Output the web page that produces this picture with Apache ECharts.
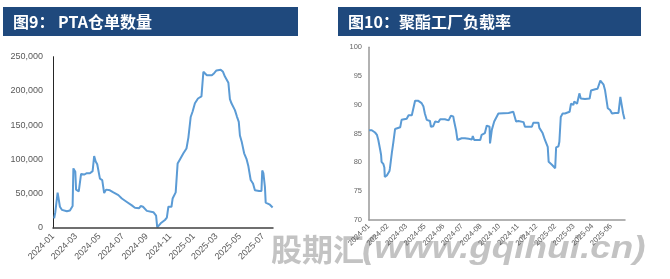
<!DOCTYPE html>
<html>
<head>
<meta charset="utf-8">
<script src="https://cdn.jsdelivr.net/npm/echarts@6/dist/echarts.min.js"></script>
<style>html,body{margin:0;padding:0;background:#fff;}#c{width:670px;height:279px;}</style>
</head>
<body>
<div id="c"></div>
<script>
// ---- Left chart: PTA warehouse receipts ----
const leftTitle = '图9： PTA仓单数量';
const leftAxisStart = '2024-01-01';
const leftAxisEnd = '2025-07-26';
const leftDates = ['2024-01-04','2024-01-07','2024-01-11','2024-01-13','2024-01-15','2024-01-17','2024-01-19','2024-01-24','2024-02-06','2024-02-14','2024-02-19','2024-02-21','2024-02-23','2024-02-28','2024-03-01','2024-03-08','2024-03-14','2024-03-22','2024-03-29','2024-04-06','2024-04-13','2024-04-17','2024-04-21','2024-04-25','2024-05-02','2024-05-08','2024-05-13','2024-05-18','2024-05-28','2024-06-06','2024-06-19','2024-06-28','2024-07-11','2024-07-24','2024-08-01','2024-08-12','2024-08-16','2024-08-22','2024-08-27','2024-09-01','2024-09-18','2024-09-25','2024-09-28','2024-10-07','2024-10-18','2024-10-23','2024-10-27','2024-11-04','2024-11-07','2024-11-15','2024-11-20','2024-11-26','2024-12-05','2024-12-13','2024-12-18','2024-12-24','2024-12-29','2025-01-04','2025-01-12','2025-01-21','2025-01-26','2025-02-04','2025-02-17','2025-02-23','2025-03-01','2025-03-06','2025-03-12','2025-03-18','2025-03-23','2025-04-01','2025-04-05','2025-04-09','2025-04-18','2025-04-23','2025-04-28','2025-05-01','2025-05-06','2025-05-12','2025-05-18','2025-05-23','2025-05-29','2025-06-04','2025-06-09','2025-06-20','2025-06-26','2025-06-28','2025-07-01','2025-07-05','2025-07-07','2025-07-18','2025-07-25'];
const leftValues = [14000,23000,24000,51500,45000,45000,31000,26500,24500,25500,27000,32000,87000,82000,56000,53500,79000,78000,80000,80000,83000,105000,97000,93000,72000,70000,51000,56000,55000,52000,48000,43000,38000,33000,29500,29000,32000,31000,29500,25000,23000,18000,1000,6800,11700,15000,31000,31000,43000,52000,94000,100000,109000,116000,132000,162000,170000,182000,189000,192000,228000,223000,223000,226000,230000,231500,231000,228000,221000,212000,188000,182000,172000,163000,155000,135000,125000,109000,101000,90000,70000,65000,55000,54000,54000,84000,80000,60000,37000,34000,30000];
const leftYTicks = [0, 50000, 100000, 150000, 200000, 250000];

// ---- Right chart: polyester plant operating rate ----
const rightTitle = '图10：聚酯工厂负载率';
const rightAxisStart = '2024-01-02';
const rightAxisEnd = '2025-07-05';
const rightDates = ['2024-01-02','2024-01-08','2024-01-11','2024-01-15','2024-01-19','2024-01-22','2024-01-26','2024-01-28','2024-01-29','2024-02-02','2024-02-04','2024-02-05','2024-02-08','2024-02-10','2024-02-15','2024-02-16','2024-02-20','2024-02-23','2024-02-27','2024-03-02','2024-03-09','2024-03-12','2024-03-16','2024-03-23','2024-03-27','2024-04-03','2024-04-06','2024-04-10','2024-04-17','2024-04-21','2024-04-24','2024-04-28','2024-05-01','2024-05-05','2024-05-09','2024-05-12','2024-05-14','2024-05-19','2024-05-23','2024-05-30','2024-06-03','2024-06-13','2024-06-21','2024-06-24','2024-06-26','2024-07-01','2024-07-03','2024-07-07','2024-07-10','2024-07-14','2024-07-19','2024-07-26','2024-08-03','2024-08-10','2024-08-12','2024-08-15','2024-08-21','2024-08-28','2024-08-31','2024-09-07','2024-09-11','2024-09-17','2024-09-18','2024-09-22','2024-09-27','2024-10-06','2024-10-28','2024-11-07','2024-11-11','2024-11-13','2024-11-18','2024-11-29','2024-12-02','2024-12-17','2024-12-20','2024-12-31','2025-01-02','2025-01-06','2025-01-09','2025-01-14','2025-01-20','2025-01-22','2025-01-29','2025-02-05','2025-02-07','2025-02-12','2025-02-14','2025-02-17','2025-02-21','2025-02-26','2025-03-01','2025-03-08','2025-03-11','2025-03-16','2025-03-18','2025-03-24','2025-03-29','2025-04-01','2025-04-10','2025-04-20','2025-04-23','2025-05-02','2025-05-07','2025-05-13','2025-05-20','2025-05-23','2025-05-29','2025-06-03','2025-06-07','2025-06-14','2025-06-21','2025-06-25','2025-06-28','2025-07-01','2025-07-04'];
const rightValues = [85.6,85.6,85.5,85.2,84.8,83.9,82.2,81.3,80.1,79.7,79.1,77.5,77.4,77.8,78.5,79.0,81.6,83.3,85.8,85.9,86.1,87.4,87.7,87.6,88.2,88.2,88.1,90.7,90.7,90.6,90.3,89.7,88.5,87.4,87.1,87.2,86.2,86.3,87.1,87.0,87.5,87.5,87.3,87.4,88.1,88.0,87.1,85.6,83.9,83.6,84.2,84.2,84.1,84.0,84.6,83.9,83.9,83.9,84.8,85.1,86.4,86.2,83.3,85.7,87.1,88.5,88.6,88.8,88.5,87.1,87.2,87.0,86.2,86.2,86.9,86.9,86.0,85.7,85.1,83.9,82.7,80.1,79.6,79.0,82.6,82.8,83.6,87.9,88.5,88.5,88.8,88.8,90.2,90.0,90.6,90.2,92.0,91.1,91.0,91.1,92.5,92.7,92.8,94.2,93.5,92.6,89.4,89.1,88.5,88.6,88.6,91.4,91.4,88.5,87.5];
const rightYTicks = [70, 75, 80, 85, 90, 95, 100];

const watermarkCN = '股期汇';
const watermarkEN = '(www.gqihui.cn)';

function dayList(start, end) {
  const out = [];
  let t = Date.UTC(+start.slice(0,4), +start.slice(5,7)-1, +start.slice(8,10));
  const e = Date.UTC(+end.slice(0,4), +end.slice(5,7)-1, +end.slice(8,10));
  while (t <= e) { out.push(new Date(t).toISOString().slice(0,10)); t += 86400000; }
  return out;
}
function align(cats, dates, vals) {
  const m = {}; dates.forEach((d,i) => m[d] = vals[i]);
  return cats.map(c => (c in m) ? m[c] : null);
}
const leftCats = dayList(leftAxisStart, leftAxisEnd);
const rightCats = dayList(rightAxisStart, rightAxisEnd);

const NARROW = "'Liberation Sans Narrow','Liberation Sans',Arial,sans-serif";
const WM = 'rgba(170,170,170,0.7)';
const chart = echarts.init(document.getElementById('c'), null, {renderer:'canvas'});
chart.setOption({
  animation: false,
  backgroundColor: '#fff',
  graphic: [
    {type:'rect', shape:{x:3,y:7,width:295,height:29}, style:{fill:'#1F497D'}},
    {type:'rect', shape:{x:338,y:7,width:303,height:29}, style:{fill:'#1F497D'}},
    {type:'text', x:13, y:22, style:{text:leftTitle, fill:'#fff', font:"bold 16px 'Noto Sans CJK SC'", verticalAlign:'middle'}},
    {type:'text', x:348, y:22, style:{text:rightTitle, fill:'#fff', font:"bold 16px 'Noto Sans CJK SC'", verticalAlign:'middle'}},
    {type:'text', x:271, y:249, z:-5, style:{text:watermarkCN, fill:WM, font:"bold 31px 'Noto Sans CJK SC'", verticalAlign:'middle'}},
    {type:'text', x:362, y:249, z:-5, scaleX:1.19, style:{text:watermarkEN, fill:WM, font:"italic bold 31px 'Liberation Sans'", verticalAlign:'middle'}}
  ],
  grid: [
    {left:53, right:397, top:56.7, bottom:51},
    {left:369, right:45, top:47.3, bottom:59}
  ],
  xAxis: [
    {type:'category', gridIndex:0, data:leftCats, boundaryGap:false, z:10,
     axisLine:{lineStyle:{color:'#404040', width:1.5}}, axisTick:{show:false},
     axisLabel:{interval:(i,v)=> v.slice(8)==='01' && (+v.slice(5,7))%2===1, formatter:v=>v.slice(0,7),
       rotate:45, margin:7, color:'#595959', fontSize:9, fontFamily:NARROW}},
    {type:'category', gridIndex:1, data:rightCats, boundaryGap:false, z:10,
     axisLine:{lineStyle:{color:'#999', width:1.5}}, axisTick:{show:false},
     axisLabel:{interval:39, hideOverlap:false, formatter:v=>v.slice(0,7),
       rotate:45, margin:5, color:'#595959', fontSize:7.5, fontFamily:NARROW}}
  ],
  yAxis: [
    {type:'value', gridIndex:0, min:leftYTicks[0], max:leftYTicks[leftYTicks.length-1], interval:leftYTicks[1]-leftYTicks[0],
     axisLine:{show:true, lineStyle:{color:'#262626', width:1}}, axisTick:{show:false}, splitLine:{show:false},
     axisLabel:{margin:10, color:'#595959', fontSize:9, fontFamily:NARROW, formatter:v=>v.toLocaleString('en-US')}},
    {type:'value', gridIndex:1, min:rightYTicks[0], max:rightYTicks[rightYTicks.length-1], interval:rightYTicks[1]-rightYTicks[0],
     axisLine:{show:true, lineStyle:{color:'#999', width:1.5}}, axisTick:{show:false}, splitLine:{show:false},
     axisLabel:{margin:7, color:'#666', fontSize:7.5, fontFamily:NARROW}}
  ],
  series: [
    {type:'line', xAxisIndex:0, yAxisIndex:0, data:align(leftCats,leftDates,leftValues), connectNulls:true,
     showSymbol:false, symbol:'none', lineStyle:{color:'#5B9BD5', width:2}},
    {type:'line', xAxisIndex:1, yAxisIndex:1, data:align(rightCats,rightDates,rightValues), connectNulls:true,
     showSymbol:false, symbol:'none', lineStyle:{color:'#5B9BD5', width:2}}
  ]
});
</script>
</body>
</html>
